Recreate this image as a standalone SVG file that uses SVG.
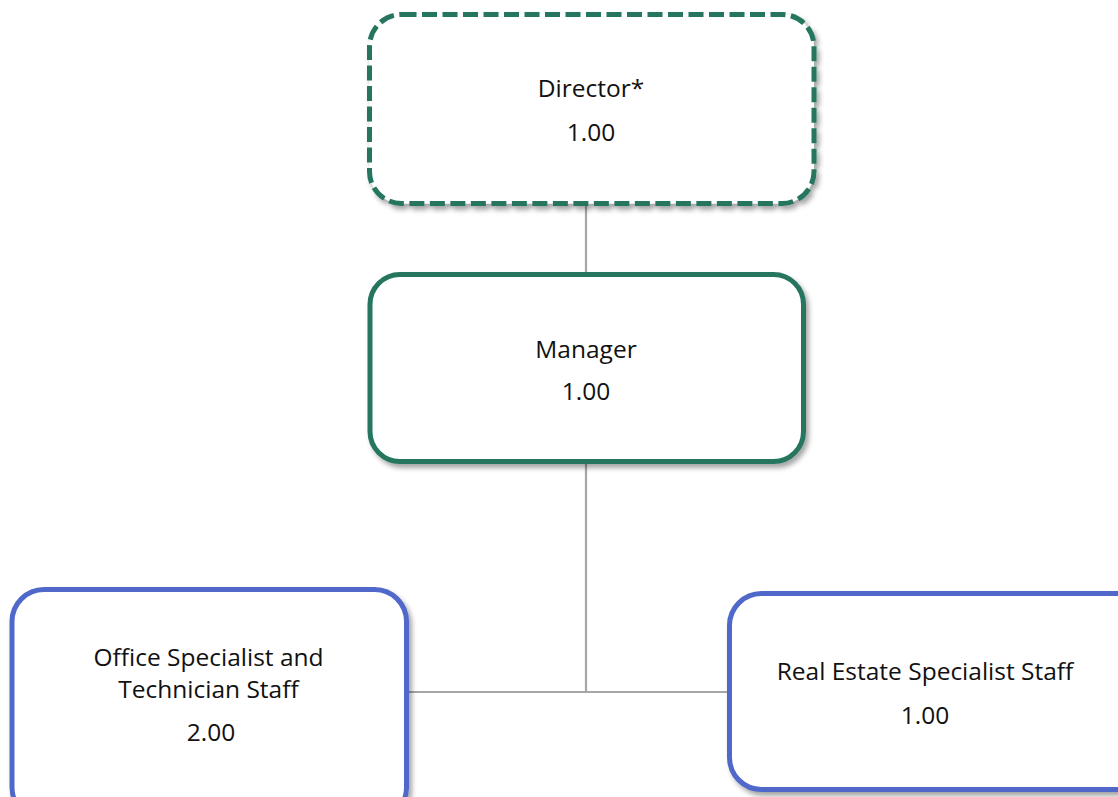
<svg xmlns="http://www.w3.org/2000/svg" width="1118" height="797" viewBox="0 0 1118 797">
<defs>
<filter id="sh" x="-10%" y="-10%" width="125%" height="130%">
<feDropShadow dx="3" dy="4" stdDeviation="2.5" flood-color="#000" flood-opacity="0.35"/>
</filter>
<style>
.box{fill:#fff;stroke-width:5;filter:url(#sh)}
.green{stroke:#26765f}
.blue{stroke:#5068c9}
.dash{stroke-dasharray:15 5.5}
.conn{fill:none;stroke:#a6a6a6;stroke-width:2.2}
text{font-family:"Open Sans","Noto Sans",sans-serif;font-size:24.5px;fill:#111;text-anchor:middle}
</style>
</defs>
<rect width="1118" height="797" fill="#fff"/>
<g id="connectors">
<line class="conn" x1="586" y1="203" x2="586" y2="275"/>
<polyline class="conn" points="586,462 586,692 407,692"/>
<line class="conn" x1="586" y1="692" x2="730" y2="692"/>
</g>
<g id="director">
<rect class="box green dash" x="369.5" y="14.5" width="444.5" height="189" rx="32"/>
<text x="591" y="97">Director*</text>
<text x="591" y="141">1.00</text>
</g>
<g id="manager">
<rect class="box green" x="370" y="274.5" width="433.5" height="187" rx="30"/>
<text x="586" y="358">Manager</text>
<text x="586" y="400">1.00</text>
</g>
<g id="office">
<rect class="box blue" x="12" y="589.5" width="394.5" height="230" rx="32"/>
<text x="208.5" y="666">Office Specialist and</text>
<text x="208.5" y="698">Technician Staff</text>
<text x="211" y="741">2.00</text>
</g>
<g id="realestate">
<rect class="box blue" x="729.5" y="593.5" width="420" height="196" rx="32"/>
<text x="925" y="680">Real Estate Specialist Staff</text>
<text x="925" y="724">1.00</text>
</g>
</svg>
